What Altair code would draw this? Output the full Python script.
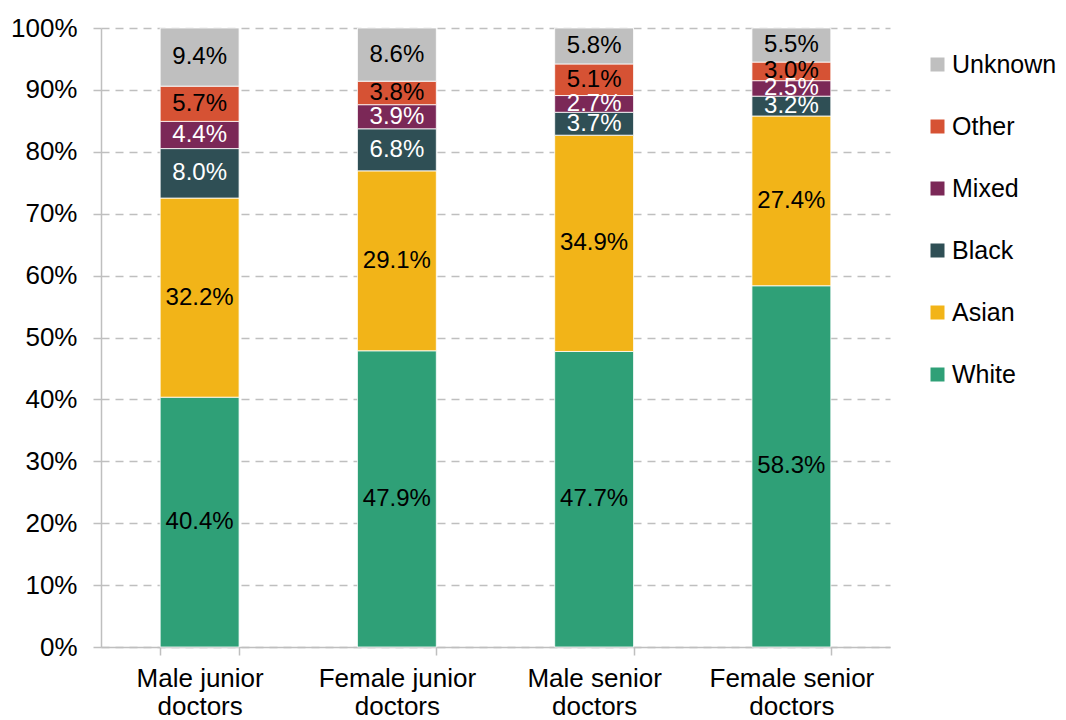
import altair as alt
import pandas as pd

groups = ["Male junior doctors", "Female junior doctors", "Male senior doctors", "Female senior doctors"]
ethnicities = ["White", "Asian", "Black", "Mixed", "Other", "Unknown"]
white = [40.4, 47.9, 47.7, 58.3]
asian = [32.2, 29.1, 34.9, 27.4]
black = [8.0, 6.8, 3.7, 3.2]
mixed = [4.4, 3.9, 2.7, 2.5]
other = [5.7, 3.8, 5.1, 3.0]
unknown = [9.4, 8.6, 5.8, 5.5]
colors = ["#2FA077", "#F2B418", "#2F4F55", "#7B2857", "#D65234", "#BFBFBF"]
label_colors = ["black", "black", "white", "white", "black", "black"]
y_ticks = [0, 0.1, 0.2, 0.3, 0.4, 0.5, 0.6, 0.7, 0.8, 0.9, 1.0]

series = [white, asian, black, mixed, other, unknown]
rows = []
for k, (eth, vals) in enumerate(zip(ethnicities, series)):
    for g, v in zip(groups, vals):
        rows.append({"group": g, "eth": eth, "value": v, "ord": k,
                     "label": f"{v:.1f}%", "tc": label_colors[k]})
df = pd.DataFrame(rows)

FONT = "Liberation Sans"
GRAY = "#BFBFBF"
W, H = 789, 619

legend_domain = ethnicities[::-1]
legend_range = colors[::-1]

base = alt.Chart(df)

x_enc = alt.X(
    "group:N", sort=groups, title=None,
    scale=alt.Scale(paddingInner=0.6, paddingOuter=0.3),
    axis=alt.Axis(
        labelAngle=0, labelFont=FONT, labelFontSize=26, labelColor="black",
        labelExpr="datum.label ? [replace(datum.label, ' doctors', ''), 'doctors'] : ''",
        labelLineHeight=28, labelPadding=10,
        domainColor=GRAY, domainWidth=1.5, tickColor=GRAY, tickWidth=1.5,
        tickSize=8, tickBand="extent",
    ),
)

bars = base.mark_bar(stroke="white", strokeWidth=0.8).encode(
    x=x_enc,
    y=alt.Y(
        "value:Q", stack="normalize", title=None,
        scale=alt.Scale(domain=[0, 1], nice=False),
        axis=alt.Axis(
            values=y_ticks, format=".0%", labelFont=FONT, labelFontSize=26,
            labelColor="black", labelPadding=16, tickSize=8, tickColor=GRAY,
            tickWidth=1.5, domainColor=GRAY, domainWidth=1.5,
            grid=True, gridColor=GRAY, gridDash=[8, 6], gridWidth=1.5,
        ),
    ),
    color=alt.Color(
        "eth:N",
        scale=alt.Scale(domain=legend_domain, range=legend_range),
        legend=alt.Legend(
            title=None, orient="none", legendX=824, legendY=24,
            symbolType="square", symbolSize=196, symbolStrokeWidth=0,
            labelFont=FONT, labelFontSize=25, labelColor="black",
            labelOffset=2, rowPadding=36,
        ),
    ),
    order=alt.Order("ord:Q", sort="ascending"),
)

texts = base.transform_stack(
    stack="value", groupby=["group"],
    sort=[alt.SortField("ord", order="ascending")],
    as_=["v0", "v1"], offset="normalize",
).transform_calculate(
    mid="(datum.v0 + datum.v1) / 2"
).mark_text(font=FONT, fontSize=24, baseline="middle").encode(
    x=alt.X("group:N", sort=groups),
    y=alt.Y("mid:Q"),
    text="label:N",
    color=alt.Color("tc:N", scale=None, legend=None),
)

chart = alt.layer(bars, texts).properties(
    width=W, height=H,
    autosize=alt.AutoSizeParams(type="none"),
    padding={"left": 93, "top": 20, "right": 168, "bottom": 76},
).configure_view(stroke=None)

chart.save("out.html", embed_options={"renderer": "svg", "actions": False})
